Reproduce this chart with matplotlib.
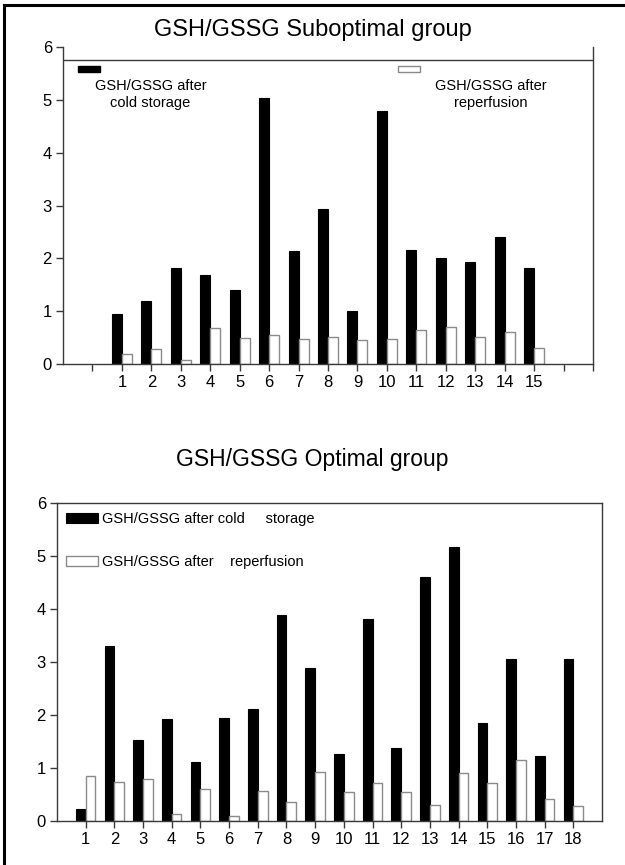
import numpy as np
import matplotlib.pyplot as plt
from matplotlib.patches import Rectangle
from matplotlib.lines import Line2D

plt.rcParams['font.family'] = ['Liberation Sans', 'DejaVu Sans']

# -----------------------------
# Data
# -----------------------------
sub_labels = [str(i) for i in range(1, 16)]
sub_cold = [0.94, 1.20, 1.82, 1.68, 1.41, 5.03, 2.13, 2.94, 1.01, 4.79, 2.15, 2.01, 1.93, 2.41, 1.81]
sub_reperf = [0.19, 0.29, 0.08, 0.68, 0.49, 0.54, 0.48, 0.52, 0.45, 0.48, 0.64, 0.70, 0.51, 0.61, 0.31]

opt_labels = [str(i) for i in range(1, 19)]
opt_cold = [0.22, 3.31, 1.53, 1.92, 1.12, 1.95, 2.11, 3.89, 2.89, 1.26, 3.81, 1.38, 4.60, 5.17, 1.84, 3.06, 1.23, 3.05]
opt_reperf = [0.84, 0.74, 0.79, 0.13, 0.61, 0.09, 0.57, 0.35, 0.93, 0.54, 0.71, 0.54, 0.31, 0.91, 0.71, 1.16, 0.41, 0.29]

W, H = 625, 865
bw = 0.34
axcol = '#3a3a3a'

fig = plt.figure(figsize=(W / 100, H / 100), dpi=100)

# outer frame (only left and top edges visible)
fig.add_artist(Line2D([4 / W, 4 / W], [0, 1 - 5 / H], color='black', lw=2.2))
fig.add_artist(Line2D([4 / W, 1], [1 - 5 / H, 1 - 5 / H], color='black', lw=2.2))


def style_axis(ax):
    ax.set_ylim(0, 6)
    ax.set_yticks(range(7))
    ax.tick_params(axis='both', direction='out', length=5, width=1, color=axcol,
                   labelsize=12, pad=3)
    for s in ax.spines.values():
        s.set_color(axcol)
        s.set_linewidth(1)


# -----------------------------
# Top: suboptimal group
# -----------------------------
ax1 = fig.add_axes([63 / W, 1 - 364 / H, 530 / W, 317 / H])
x1 = np.arange(1, len(sub_cold) + 1)
ax1.bar(x1 - bw / 2, sub_cold, width=bw, color='black', edgecolor='black', lw=0.8)
ax1.bar(x1 + bw / 2, sub_reperf, width=bw, color='white', edgecolor='#8a8a8a', lw=1)
ax1.set_xlim(-1, 17)
ax1.set_xticks(range(0, 18))
ax1.set_xticklabels([''] + sub_labels + ['', ''])
style_axis(ax1)
ax1.spines['top'].set_visible(False)
ax1.axhline(5.75, color=axcol, lw=1)

ax1.add_patch(Rectangle((0.028, 0.921), 0.042, 0.02, transform=ax1.transAxes,
                        color='black', clip_on=False))
ax1.text(0.165, 0.9, 'GSH/GSSG after\ncold storage', transform=ax1.transAxes,
         ha='center', va='top', fontsize=10.5, linespacing=1.3)
ax1.add_patch(Rectangle((0.632, 0.921), 0.042, 0.02, transform=ax1.transAxes,
                        facecolor='white', edgecolor='#8a8a8a', lw=1, clip_on=False))
ax1.text(0.808, 0.9, 'GSH/GSSG after\nreperfusion', transform=ax1.transAxes,
         ha='center', va='top', fontsize=10.5, linespacing=1.3)

fig.text(0.5, 1 - 30 / H, 'GSH/GSSG Suboptimal group', ha='center', va='center', fontsize=17)

# -----------------------------
# Bottom: optimal group
# -----------------------------
ax2 = fig.add_axes([57 / W, 1 - 821 / H, 545 / W, 318 / H])
x2 = np.arange(1, len(opt_cold) + 1)
ax2.bar(x2 - bw / 2, opt_cold, width=bw, color='black', edgecolor='black', lw=0.8,
        label='GSH/GSSG after cold     storage')
ax2.bar(x2 + bw / 2, opt_reperf, width=bw, color='white', edgecolor='#8a8a8a', lw=1,
        label='GSH/GSSG after    reperfusion')
ax2.set_xlim(0, 19)
ax2.set_xticks(x2)
ax2.set_xticklabels(opt_labels)
style_axis(ax2)
ax2.legend(loc='upper left', frameon=False, fontsize=10.5, handlelength=2.2, handleheight=0.7,
           labelspacing=2.0, handletextpad=0.3, borderaxespad=0.2)

fig.text(0.5, 1 - 460 / H, 'GSH/GSSG Optimal group', ha='center', va='center', fontsize=16.5)

plt.savefig('out.png', dpi=100)
